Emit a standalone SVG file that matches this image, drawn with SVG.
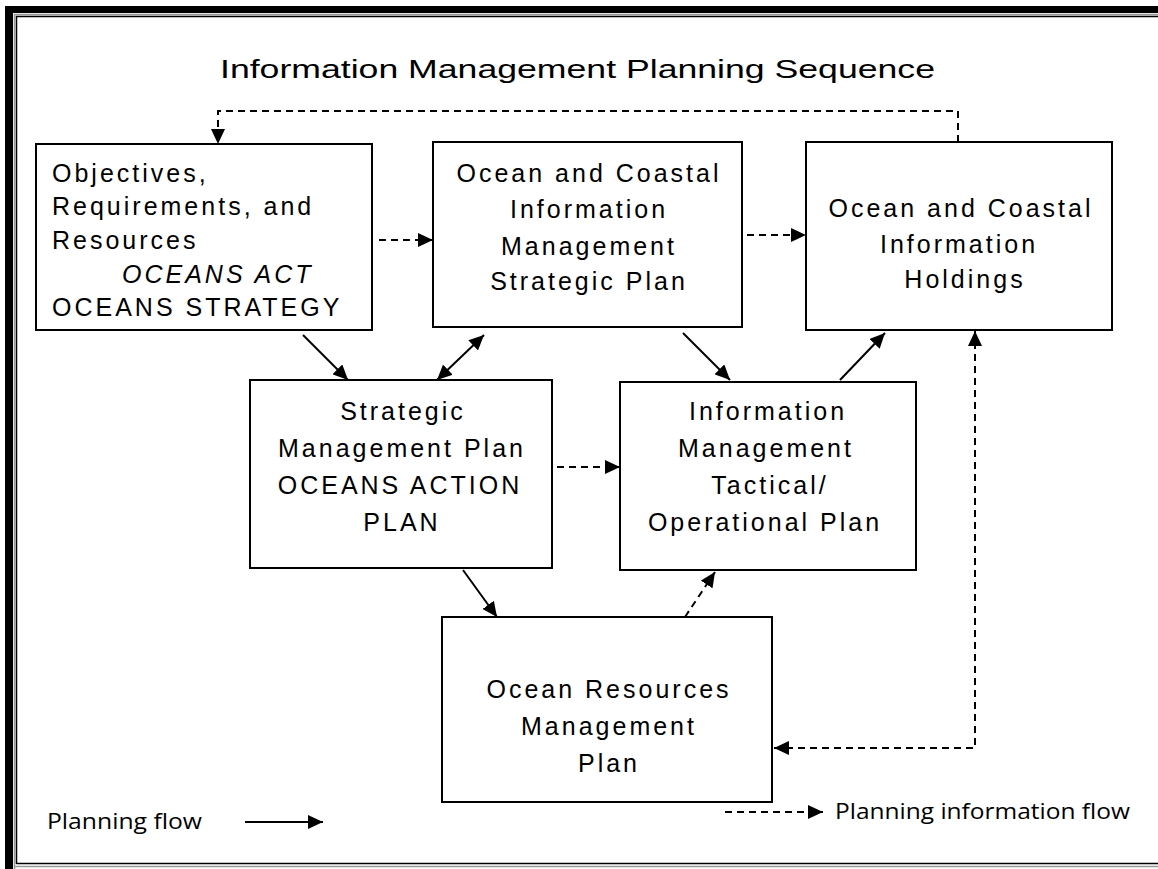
<svg xmlns="http://www.w3.org/2000/svg" width="1158" height="869" viewBox="0 0 1158 869">
<defs>
<style>
.box{fill:#fff;stroke:#000;stroke-width:2}
.t{font-family:"Liberation Sans",Arial,sans-serif;font-size:25px;letter-spacing:3px;fill:#000}
.c{text-anchor:middle}
.title{font-family:"Liberation Sans",Arial,sans-serif;font-size:26px;fill:#000}
.lg{font-family:"Open Sans","Liberation Sans",sans-serif;font-size:21px;fill:#000}
.solid{fill:none;stroke:#000;stroke-width:2}
.dash{fill:none;stroke:#000;stroke-width:2;stroke-dasharray:7 5}
</style>
<marker id="ah" viewBox="0 0 15 14" refX="15" refY="7" markerWidth="15" markerHeight="14" markerUnits="userSpaceOnUse" orient="auto-start-reverse">
<path d="M0,0 L15,7 L0,14 z" fill="#000"/>
</marker>
</defs>
<rect width="1158" height="869" fill="#fff"/>
<g id="frame">
<rect x="5" y="6" width="1153" height="7" fill="#000"/>
<rect x="5" y="6" width="8" height="863" fill="#000"/>
<path d="M14.5,869 V14.5 H1158 M14.5,866.5 H1158" fill="none" stroke="#999" stroke-width="1.5"/>
<path d="M16.5,864 V16.5 H1158 M16.5,863.5 H1158" fill="none" stroke="#000" stroke-width="1.5"/>
</g>
<text class="title" x="220" y="78" textLength="715" lengthAdjust="spacingAndGlyphs">Information Management Planning Sequence</text>
<g id="connectors">
<path class="dash" d="M958,142 V111 H218 V144" marker-end="url(#ah)"/>
<path class="dash" d="M379,240 H433" marker-end="url(#ah)"/>
<path class="dash" d="M747,235 H806" marker-end="url(#ah)"/>
<path class="solid" d="M303,335 L348,380" marker-end="url(#ah)"/>
<path class="solid" d="M484,335 L437,380" marker-start="url(#ah)" marker-end="url(#ah)"/>
<path class="solid" d="M683,333 L730,380" marker-end="url(#ah)"/>
<path class="solid" d="M840,380 L885,333" marker-end="url(#ah)"/>
<path class="dash" d="M557,467 H620" marker-end="url(#ah)"/>
<path class="solid" d="M463,570 L497,617" marker-end="url(#ah)"/>
<path class="dash" d="M685,617 L715,572" marker-end="url(#ah)"/>
<path class="dash" d="M774,748 H975 V331" marker-start="url(#ah)" marker-end="url(#ah)"/>
</g>
<g id="n1">
<rect class="box" x="36" y="144" width="336" height="186"/>
<text class="t" x="52" y="182">Objectives,</text>
<text class="t" x="52" y="215">Requirements, and</text>
<text class="t" x="52" y="249">Resources</text>
<text class="t" x="122" y="283" font-style="italic">OCEANS ACT</text>
<text class="t" x="52" y="316">OCEANS STRATEGY</text>
</g>
<g id="n2">
<rect class="box" x="433" y="142" width="309" height="185"/>
<text class="t c" x="589" y="182">Ocean and Coastal</text>
<text class="t c" x="589" y="218">Information</text>
<text class="t c" x="589" y="255">Management</text>
<text class="t c" x="589" y="290">Strategic Plan</text>
</g>
<g id="n3">
<rect class="box" x="806" y="142" width="306" height="188"/>
<text class="t c" x="961" y="217">Ocean and Coastal</text>
<text class="t c" x="959" y="253">Information</text>
<text class="t c" x="965" y="288">Holdings</text>
</g>
<g id="n4">
<rect class="box" x="250" y="380" width="302" height="188"/>
<text class="t c" x="403" y="420">Strategic</text>
<text class="t c" x="402" y="457">Management Plan</text>
<text class="t c" x="400" y="494">OCEANS ACTION</text>
<text class="t c" x="402" y="531">PLAN</text>
</g>
<g id="n5">
<rect class="box" x="620" y="382" width="296" height="188"/>
<text class="t c" x="768" y="420">Information</text>
<text class="t c" x="766" y="457">Management</text>
<text class="t c" x="770" y="494">Tactical/</text>
<text class="t c" x="765" y="531">Operational Plan</text>
</g>
<g id="n6">
<rect class="box" x="442" y="617" width="330" height="185"/>
<text class="t c" x="609" y="698">Ocean Resources</text>
<text class="t c" x="609" y="735">Management</text>
<text class="t c" x="609" y="772">Plan</text>
</g>
<g id="legend">
<text class="lg" x="47" y="829" textLength="155" lengthAdjust="spacingAndGlyphs">Planning flow</text>
<path class="solid" d="M245,822 H323" marker-end="url(#ah)"/>
<path class="dash" d="M725,812 H823" marker-end="url(#ah)"/>
<text class="lg" x="835" y="819" textLength="295" lengthAdjust="spacingAndGlyphs">Planning information flow</text>
</g>
</svg>
